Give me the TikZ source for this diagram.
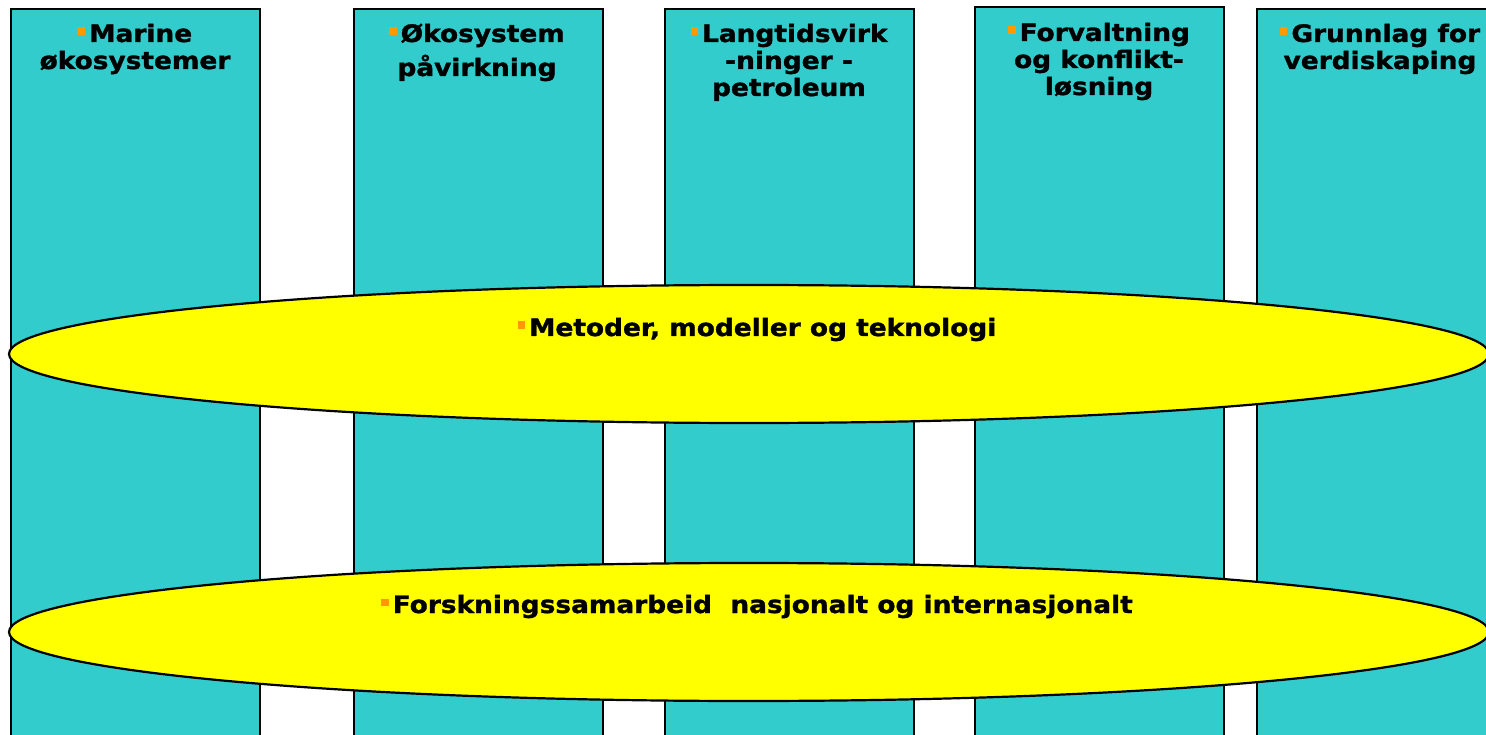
\documentclass[tikz,border=0pt]{standalone}
\usepackage{fontspec}
\setmainfont[FakeStretch=1.1,BoldFeatures={FakeBold=1.3,FakeStretch=1.1}]{DejaVu Sans}
\usetikzlibrary{shapes.geometric}
\definecolor{tealc}{HTML}{33CCCC}
\definecolor{yelc}{HTML}{FFFF00}
\definecolor{bulc}{HTML}{FF9900}
\newcommand\bul{{\color{bulc}\rule[7pt]{7.5pt}{7.5pt}}\hspace{4pt}}
\tikzset{
  colbox/.style={draw=black, line width=1.6pt, fill=tealc, anchor=north west, minimum width=249pt, minimum height=760pt, inner sep=0pt},
  band/.style={ellipse, draw=black, line width=2.2pt, fill=yelc, minimum width=1480pt, minimum height=138pt, inner sep=0pt},
  lab/.style={font=\bfseries\fontsize{24}{27}\selectfont, align=center, anchor=base, inner sep=0pt},
}
\begin{document}
\begin{tikzpicture}[x=1pt,y=-1pt]
\useasboundingbox (0,0) rectangle (1486,735);
\clip (0,0) rectangle (1486,735);
\node[colbox] (c1) at (10,8) {};
\node[colbox] (c2) at (353,8) {};
\node[colbox] (c3) at (664,8) {};
\node[colbox] (c4) at (974,6) {};
\node[colbox] (c5) at (1256,8) {};
\node[lab] (t1) at (135,69) {\bul Marine\\økosystemer};
\node[lab] (t2) at (477,76) {\bul Økosystem\\[7pt]påvirkning};
\node[lab] (t3) at (789,96) {\bul Langtidsvirk\\-ninger -\\petroleum};
\node[lab] (t4) at (1099,95) {\bul Forvaltning\\og konflikt-\\løsning};
\node[lab] (t5) at (1380,69) {\bul Grunnlag for\\verdiskaping};
\node[band] (e1) at (749,354) {};
\node[band] (e2) at (749,632) {};
\node[lab] (m1) at (757,336) {\bul Metoder, modeller og teknologi};
\node[lab] (m2) at (757,613) {\bul Forskningssamarbeid\ \ nasjonalt og internasjonalt};
\end{tikzpicture}
\end{document}
